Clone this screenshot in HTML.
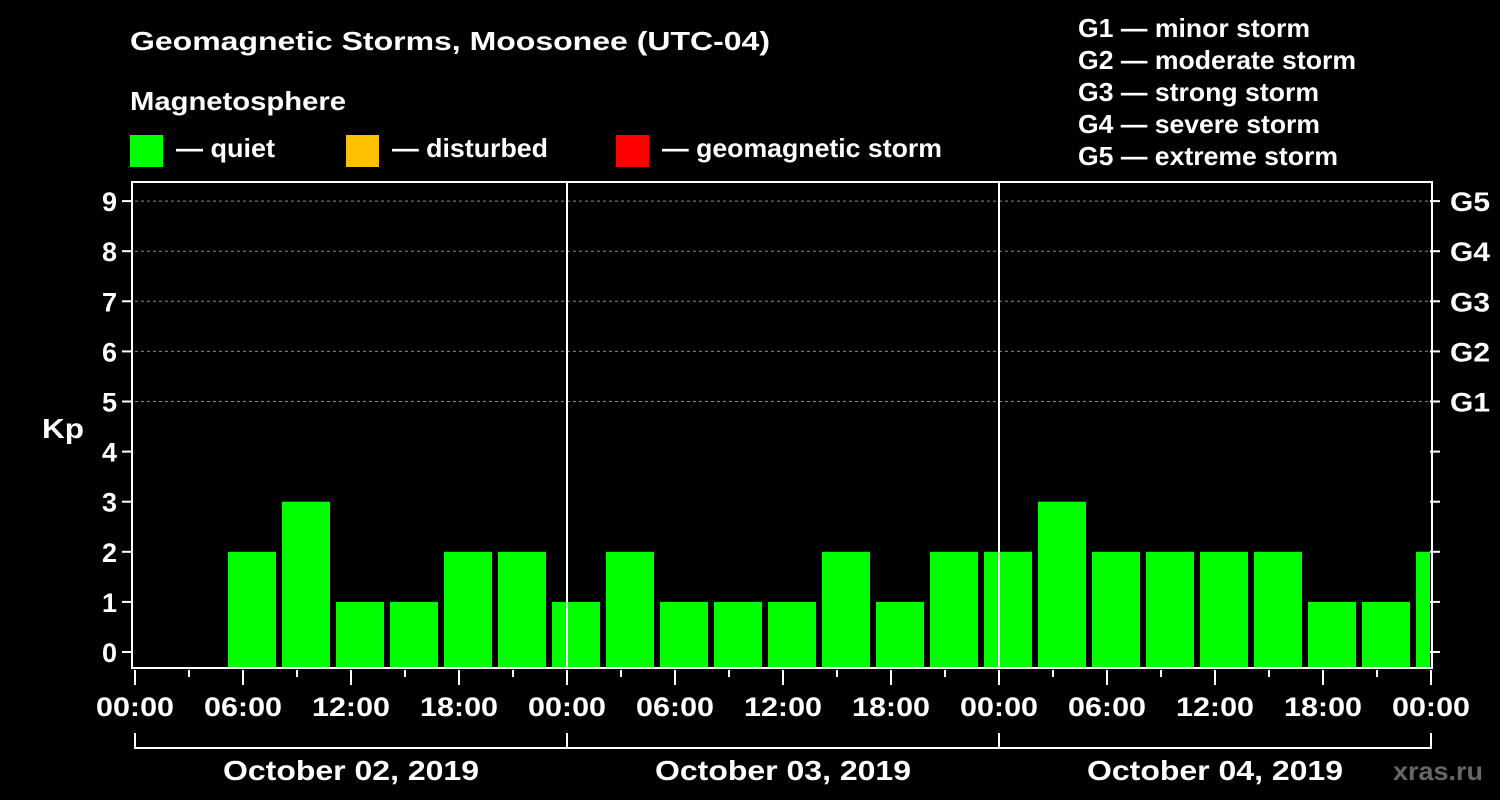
<!DOCTYPE html>
<html><head><meta charset="utf-8"><style>
body{margin:0;background:#000;}
svg{display:block;font-family:"Liberation Sans",sans-serif;font-weight:bold;}
</style></head><body>
<svg id="chart" width="1500" height="800" viewBox="0 0 1500 800">
<rect width="1500" height="800" fill="#000"/>
<text x="130" y="50" fill="#fff" font-size="26" textLength="640" lengthAdjust="spacingAndGlyphs">Geomagnetic Storms, Moosonee (UTC-04)</text>
<text x="130" y="110" fill="#fff" font-size="26" textLength="216" lengthAdjust="spacingAndGlyphs">Magnetosphere</text>
<g><rect x="130" y="135" width="33" height="32" fill="#00ff00"/><text x="176" y="157" fill="#fff" font-size="26" textLength="99" lengthAdjust="spacingAndGlyphs">— quiet</text></g>
<g><rect x="346" y="135" width="33" height="32" fill="#ffc000"/><text x="392" y="157" fill="#fff" font-size="26" textLength="156" lengthAdjust="spacingAndGlyphs">— disturbed</text></g>
<g><rect x="616" y="135" width="33" height="32" fill="#ff0000"/><text x="662" y="157" fill="#fff" font-size="26" textLength="280" lengthAdjust="spacingAndGlyphs">— geomagnetic storm</text></g>
<g fill="#fff" font-size="26">
<text x="1078" y="37" textLength="232" lengthAdjust="spacingAndGlyphs">G1 — minor storm</text>
<text x="1078" y="69" textLength="278" lengthAdjust="spacingAndGlyphs">G2 — moderate storm</text>
<text x="1078" y="101" textLength="241" lengthAdjust="spacingAndGlyphs">G3 — strong storm</text>
<text x="1078" y="133" textLength="242" lengthAdjust="spacingAndGlyphs">G4 — severe storm</text>
<text x="1078" y="165" textLength="260" lengthAdjust="spacingAndGlyphs">G5 — extreme storm</text>
</g>
<text x="42" y="438" fill="#fff" font-size="28" textLength="42" lengthAdjust="spacingAndGlyphs">Kp</text>
<text x="1393" y="780" fill="#666" font-size="26" textLength="90" lengthAdjust="spacingAndGlyphs">xras.ru</text>
<g id="grid"></g><g id="bars"></g><g id="axes"></g>
</svg>
<script>
const kpValues=[null,2,3,1,1,2,2,1,2,1,1,1,2,1,2,2,3,2,2,2,2,1,1,2];
const yTicks=[0,1,2,3,4,5,6,7,8,9];
const gLabels=["G1","G2","G3","G4","G5"];
const xLabels=["00:00","06:00","12:00","18:00","00:00","06:00","12:00","18:00","00:00","06:00","12:00","18:00","00:00"];
const dateLabels=["October 02, 2019","October 03, 2019","October 04, 2019"];
const startHour=2;
const NS="http://www.w3.org/2000/svg";
const L=135,R=1430,T=182,B=668;
const xs=h=>L+h*18;
const ys=v=>652-v*50.1;
function mk(tag,attrs,parent,txt){const e=document.createElementNS(NS,tag);for(const k in attrs)e.setAttribute(k,attrs[k]);if(txt!==undefined)e.textContent=txt;document.getElementById(parent).appendChild(e);return e;}
const defs=document.createElementNS(NS,'defs');defs.innerHTML='<clipPath id="pc"><rect x="'+L+'" y="'+T+'" width="'+(R-L)+'" height="'+(B-T)+'"/></clipPath>';document.getElementById('chart').prepend(defs);
document.getElementById('bars').setAttribute('clip-path','url(#pc)');
for(let v=5;v<=9;v++){const l=mk('line',{x1:L,x2:R,y1:ys(v),y2:ys(v),stroke:'#888','stroke-dasharray':'3,3','stroke-width':1},'grid');

}
kpValues.forEach((v,i)=>{if(v===null)return;const h0=startHour+i*3;const x0=Math.max(xs(h0)+3,L);const x1=xs(h0+3)-3;
const r=mk('rect',{x:x0,y:ys(v),width:x1-x0,height:B-ys(v),fill:v>=5?'#ff0000':(v>=4?'#ffc000':'#00ff00')},'bars');

});
const fr=mk('rect',{x:132,y:T,width:R-132+2,height:B-T,fill:'none',stroke:'#fff','stroke-width':2},'axes');


[567,999].forEach(x=>{const l=mk('line',{x1:x,x2:x,y1:T,y2:B,stroke:'#fff','stroke-width':2},'axes');

});
yTicks.forEach(v=>{const y=ys(v);
mk('line',{x1:122,x2:132,y1:y,y2:y,stroke:'#fff','stroke-width':2},'axes');
mk('line',{x1:R,x2:R+10,y1:y,y2:y,stroke:'#fff','stroke-width':2},'axes');
const t=mk('text',{x:117,y:y+10,fill:'#fff','font-size':27,'text-anchor':'end'},'axes',String(v));

});
gLabels.forEach((g,i)=>{const t=mk('text',{x:1450,y:ys(5+i)+10,fill:'#fff','font-size':27,textLength:40,lengthAdjust:'spacingAndGlyphs'},'axes',g);

});
for(let h=0;h<=72;h+=3){const x=xs(h);mk('line',{x1:x,x2:x,y1:670,y2:h%6===0?685:677,stroke:'#fff','stroke-width':2},'axes');}
xLabels.forEach((s,i)=>{const t=mk('text',{x:xs(i*6)-39,y:716,fill:'#fff','font-size':27,textLength:78,lengthAdjust:'spacingAndGlyphs'},'axes',s);

});
mk('line',{x1:L,x2:R,y1:748,y2:748,stroke:'#fff','stroke-width':2},'axes');
for(let d=0;d<=3;d++){const x=xs(d*24);mk('line',{x1:x,x2:x,y1:733,y2:749,stroke:'#fff','stroke-width':2},'axes');}
dateLabels.forEach((s,i)=>{const t=mk('text',{x:xs(i*24+12)-128,y:780,fill:'#fff','font-size':28,textLength:256,lengthAdjust:'spacingAndGlyphs'},'axes',s);

});
</script>
</body></html>
